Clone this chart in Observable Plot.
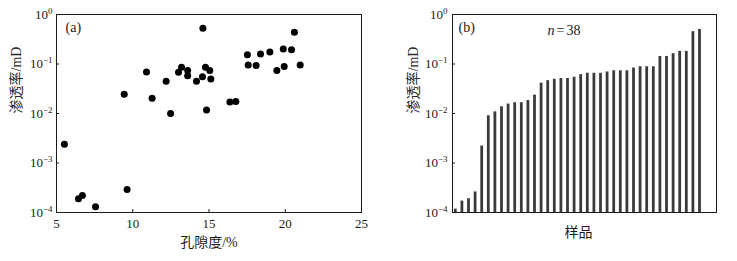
<!DOCTYPE html>
<html>
<head>
<meta charset="utf-8">
<script src="https://cdn.jsdelivr.net/npm/d3@7"></script>
<script src="https://cdn.jsdelivr.net/npm/@observablehq/plot@0.6"></script>
<style>
  html, body { margin: 0; padding: 0; background: #fff; }
  #wrap { display: flex; flex-direction: row; width: 737px; height: 261px; }
</style>
</head>
<body>
<div id="wrap"></div>
<script>
// Panel (a): porosity (%) vs permeability (mD)
const porosity = [5.52, 6.44, 6.70, 7.56, 9.63, 9.44, 10.9, 11.27, 12.19, 12.48, 13.0, 13.2, 13.6, 13.6, 14.18, 14.57, 14.6, 14.77, 15.05, 15.12, 14.84, 16.37, 16.76, 17.52, 17.57, 18.09, 18.38, 18.99, 19.45, 19.87, 19.93, 20.41, 20.6, 20.98];
const permeability = [0.0024, 0.00019, 0.00022, 0.00013, 0.00029, 0.0245, 0.069, 0.0204, 0.045, 0.0100, 0.068, 0.086, 0.074, 0.058, 0.045, 0.055, 0.53, 0.086, 0.074, 0.050, 0.0117, 0.017, 0.0175, 0.153, 0.095, 0.093, 0.16, 0.174, 0.074, 0.20, 0.089, 0.193, 0.44, 0.095];

// Panel (b): sorted permeability of 38 samples
const samplePerm = [0.000117, 0.00017, 0.00019, 0.00026, 0.0022, 0.0090, 0.0108, 0.0137, 0.0155, 0.0165, 0.0165, 0.0183, 0.0235, 0.041, 0.046, 0.049, 0.051, 0.051, 0.054, 0.061, 0.065, 0.065, 0.065, 0.069, 0.073, 0.073, 0.073, 0.083, 0.088, 0.088, 0.088, 0.142, 0.142, 0.161, 0.18, 0.18, 0.45, 0.50];

const yTicks = [1e-4, 1e-3, 1e-2, 1e-1, 1];
const yTickExponents = ["−4", "−3", "−2", "−1", "0"];
const xTicks = [5, 10, 15, 20, 25];
const xInnerTicks = [10, 15, 20];
const yInnerTicks = [1e-3, 1e-2, 1e-1];
const xLabelA = "孔隙度/%";
const yLabel = "渗透率/mD";
const xLabelB = "样品";

(function () {
const font = "'Liberation Serif', 'Noto Sans CJK SC', serif";
const ink = "#1a1a1a";
const H = 261, mTop = 14, mBottom = 49;
const tickLen = 3;
const plotH = H - mTop - mBottom;
const decadePx = plotH / 4;
const yTickEnd = 1e-4 * Math.pow(10, tickLen / decadePx);

const expOf = d => yTickExponents[yTicks.findIndex(t => Math.abs(Math.log10(t) - Math.log10(d)) < 1e-6)];
const fmt = d => "10^" + expOf(d);

// ---- Panel (a)
const WA = 370, mlA = 56, mrA = 9;
const xDomA = [5, 25];
const pxPerUnitA = (WA - mlA - mrA) / (xDomA[1] - xDomA[0]);

const plotA = Plot.plot({
  width: WA, height: H,
  marginLeft: mlA, marginRight: mrA, marginTop: mTop, marginBottom: mBottom,
  style: { fontFamily: font, fontSize: "13px", color: ink, background: "#fff", overflow: "visible" },
  x: { domain: xDomA, ticks: xTicks, tickSize: 0, tickPadding: 6, label: null },
  y: { type: "log", domain: [1e-4, 1], ticks: yTicks, tickFormat: fmt, tickSize: 0, tickPadding: 4, label: null },
  marks: [
    Plot.ruleY(yInnerTicks, { x1: xDomA[0], x2: xDomA[0] + tickLen / pxPerUnitA, stroke: ink }),
    Plot.ruleX(xInnerTicks, { y1: 1e-4, y2: yTickEnd, stroke: ink }),
    Plot.dot(porosity.map((p, i) => ({ p, k: permeability[i] })), { x: "p", y: "k", r: 3.5, fill: "#000", stroke: "none" }),
    Plot.frame({ stroke: ink, strokeWidth: 1 }),
    Plot.text(["(a)"], { frameAnchor: "top-left", dx: 9, dy: 8, fontSize: 14, textAnchor: "start", lineAnchor: "top", fill: ink }),
    Plot.text([xLabelA], { frameAnchor: "bottom", dy: 30, lineAnchor: "middle", fontSize: 14, fill: ink }),
    Plot.text([yLabel], { frameAnchor: "left", dx: -40, rotate: -90, lineAnchor: "middle", fontSize: 14, fill: "#2a2a2a" })
  ]
});

// ---- Panel (b)
const WB = 367, mlB = 82, mrB = 21;
const xDomB = [0.5, 40.5];
const pxPerUnitB = (WB - mlB - mrB) / (xDomB[1] - xDomB[0]);
const halfBar = 0.21;

const plotB = Plot.plot({
  width: WB, height: H,
  marginLeft: mlB, marginRight: mrB, marginTop: mTop, marginBottom: mBottom,
  style: { fontFamily: font, fontSize: "13px", color: ink, background: "#fff", overflow: "visible" },
  x: { domain: xDomB, axis: null },
  y: { type: "log", domain: [1e-4, 1], ticks: yTicks, tickFormat: fmt, tickSize: 0, tickPadding: 5, label: null },
  marks: [
    Plot.ruleY(yInnerTicks, { x1: xDomB[0], x2: xDomB[0] + tickLen / pxPerUnitB, stroke: ink }),
    Plot.rectY(samplePerm, { x1: (d, i) => i + 1 - halfBar, x2: (d, i) => i + 1 + halfBar, y1: 1e-4, y2: d => d, fill: "#3a3a3a" }),
    Plot.frame({ stroke: ink, strokeWidth: 1 }),
    Plot.text(["(b)"], { frameAnchor: "top-left", dx: 6, dy: 8, fontSize: 14, textAnchor: "start", lineAnchor: "top", fill: ink }),
    Plot.text(["n"], { frameAnchor: "top-left", dx: 95, dy: 11, fontSize: 14, fontStyle: "italic", textAnchor: "start", lineAnchor: "top", fill: ink }),
    Plot.text(["="], { frameAnchor: "top-left", dx: 104, dy: 11, fontSize: 14, textAnchor: "start", lineAnchor: "top", fill: ink }),
    Plot.text(["38"], { frameAnchor: "top-left", dx: 114, dy: 11, fontSize: 14, textAnchor: "start", lineAnchor: "top", fill: ink }),
    Plot.text([xLabelB], { frameAnchor: "bottom", dx: -6, dy: 20, lineAnchor: "middle", fontSize: 14, fill: ink }),
    Plot.text([yLabel], { frameAnchor: "left", dx: -39, rotate: -90, lineAnchor: "middle", fontSize: 14, fill: "#2a2a2a" })
  ]
});

// Render the "10^n" tick labels with a real superscript tspan
function superscripts(svg) {
  const NS = "http://www.w3.org/2000/svg";
  svg.querySelectorAll("text").forEach(t => {
    const s = t.textContent;
    if (!s.startsWith("10^")) return;
    const exp = s.slice(3);
    while (t.firstChild) t.removeChild(t.firstChild);
    const base = document.createElementNS(NS, "tspan");
    base.textContent = "10";
    const sup = document.createElementNS(NS, "tspan");
    sup.textContent = exp;
    sup.setAttribute("font-size", "9");
    sup.setAttribute("dy", "-5");
    t.appendChild(base);
    t.appendChild(sup);
  });
}
superscripts(plotA);
superscripts(plotB);

const wrap = document.getElementById("wrap");
wrap.appendChild(plotA);
wrap.appendChild(plotB);
})();
</script>
</body>
</html>
